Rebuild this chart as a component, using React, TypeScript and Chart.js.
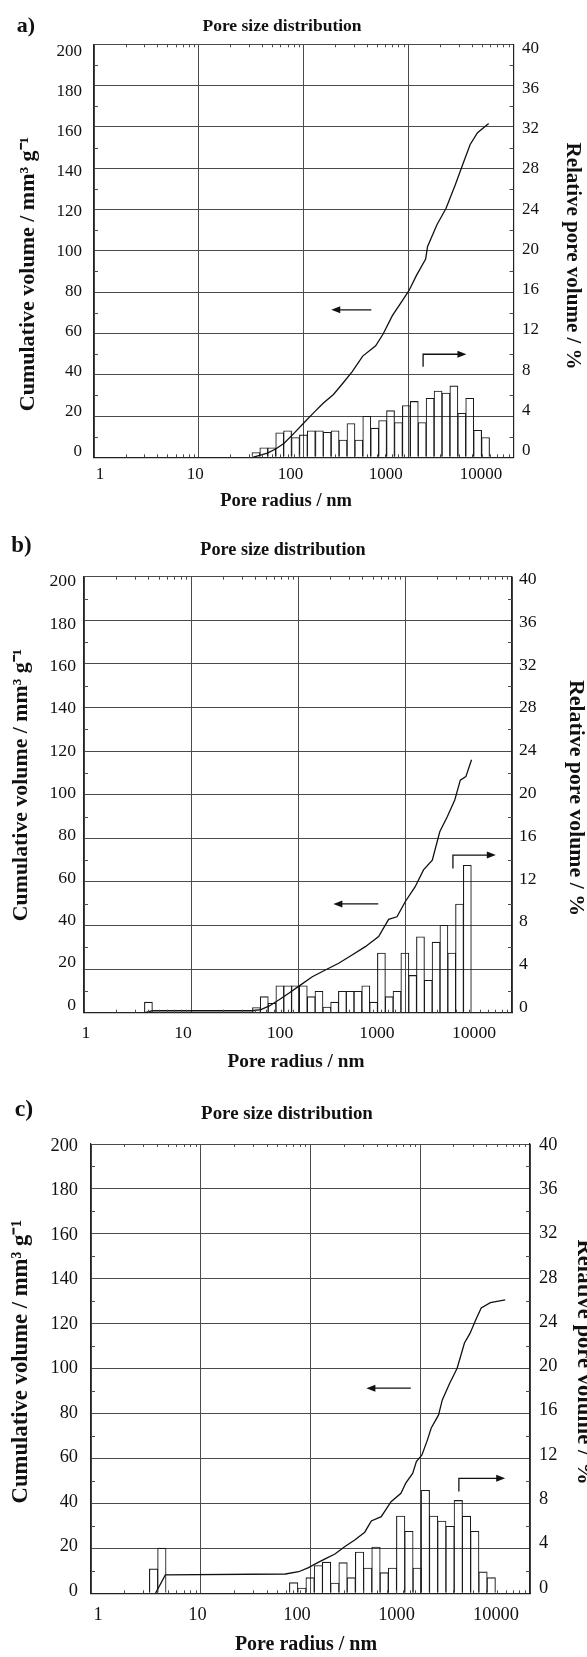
import React, { useEffect, useRef } from "react";
import { Chart, registerables } from "chart.js";

Chart.register(...registerables);

// ---------- shared axis data ----------
const X_TICKS = [1, 10, 100, 1000, 10000];
const X_TICK_LABELS = ["1", "10", "100", "1000", "10000"];
const LEFT_RANGE = [0, 200, 20];
const RIGHT_RANGE = [0, 40, 4];
const MINOR_X_MULTIPLIERS = [2, 3, 4, 5, 6, 7, 8, 9];
const MINOR_X_DECADES = [1, 10, 100, 1000];

const TITLE_TEXT = "Pore size distribution";
const X_TITLE = "Pore radius / nm";
const Y_LEFT_TITLE = "Cumulative volume / mm³ g⁻¹";
const Y_RIGHT_TITLE = "Relative pore volume / %";

// ---------- panel a ----------
const A_BIN_R = [35, 41.6, 49.5, 59, 70.1, 83.5, 99.3, 118, 141, 167, 199, 237, 282, 335, 399, 475, 565, 672, 800, 952, 1132, 1347, 1603, 1908, 2270, 2701, 3214, 3824, 4550, 5414];
const A_BIN_PCT = [0.5, 0.95, 0.95, 2.4, 2.6, 1.95, 2.2, 2.6, 2.6, 2.45, 2.6, 1.7, 3.3, 1.7, 4.0, 2.85, 3.6, 4.55, 3.4, 5.05, 5.45, 3.4, 5.75, 6.45, 6.25, 6.95, 4.3, 5.75, 2.65, 1.95];
const A_CUM_R = [32.5, 45, 54, 65, 81, 100, 124, 154, 192, 238, 290, 365, 485, 571, 700, 894, 1009, 1188, 1453, 1514, 1857, 2275, 2787, 3279, 3862, 4539, 5799];
const A_CUM_V = [0, 2, 4, 6.8, 11.7, 16.6, 21.5, 26.3, 30.4, 36.1, 41.5, 49, 54, 59.7, 68.6, 76.7, 80.8, 88.1, 96, 102, 112.5, 120.6, 132, 141.8, 151.5, 157.2, 161.6];
const A_ARROW_LEFT = [441, 183, 71.4]; // from r, to r, at left-axis value
const A_ARROW_BENT = [1374, 43.9, 49.9, 3556]; // at r, from v, to v, to r

// ---------- panel b ----------
const B_BIN_R = [4.0, 40.9, 48.4, 57.2, 67.7, 80.1, 94.7, 112, 133, 157, 186, 220, 260, 307, 363, 430, 509, 602, 712, 842, 997, 1179, 1395, 1650, 1952, 2310, 2733, 3233, 3824];
const B_BIN_PCT = [1.0, 0.5, 1.5, 0.9, 2.5, 2.5, 2.5, 2.5, 1.5, 2.0, 0.55, 1.0, 2.0, 2.0, 2.0, 2.5, 1.0, 5.5, 1.5, 2.0, 5.5, 3.45, 7.0, 3.0, 6.5, 8.05, 5.5, 10.0, 13.55];
const B_CUM_R = [3.7, 4.4, 37, 45, 54, 66, 82, 102, 136, 180, 240, 320, 426, 567, 703, 841, 1005, 1245, 1489, 1799, 2113, 2483, 2918, 3289, 3707, 4188];
const B_CUM_V = [0, 0.9, 0.9, 1.4, 3.1, 5.8, 8.9, 12.2, 16.5, 19.6, 22.7, 26.5, 30.3, 34.9, 42.8, 44, 50.9, 57.8, 65.5, 70, 83, 89.9, 97.6, 106.7, 108.3, 116];
const B_ARROW_LEFT = [562, 214, 49.9];
const B_ARROW_BENT = [2805, 66.2, 72.3, 7063];

// ---------- panel c ----------
const C_BIN_R = [3.72, 4.42, 70.2, 83.5, 99.2, 118, 140, 166.5, 198, 235, 280, 332, 395, 469, 558, 663, 788, 937, 1113, 1323, 1572, 1869, 2221, 2640, 3137, 3729, 4432];
const C_BIN_PCT = [2.2, 4.05, 0.98, 0.5, 1.42, 2.5, 2.8, 0.95, 2.76, 1.42, 3.71, 2.28, 4.15, 1.87, 2.28, 6.91, 5.55, 2.28, 9.2, 6.91, 6.47, 6.0, 8.3, 6.9, 5.55, 1.93, 1.42];
const C_CUM_R = [3.87, 4.76, 59, 78, 96, 114, 136, 167, 206, 253, 312, 358, 441, 542, 667, 740, 853, 922, 1036, 1163, 1256, 1468, 1588, 1855, 2168, 2528, 2845, 3200, 3592, 4355, 5940];
const C_CUM_V = [0, 8.2, 8.6, 9.6, 11.4, 13.4, 15.3, 17.5, 20.8, 23.7, 27.2, 32.2, 34.1, 40.8, 44.5, 49.2, 53.4, 58.6, 61.6, 68.3, 73.5, 79.4, 86.1, 93.5, 100.2, 111.4, 115.8, 121.7, 127, 129.4, 130.6];
const C_ARROW_LEFT = [820, 323, 91.3];
const C_ARROW_BENT = [2249, 45.3, 51.2, 5940];

// ---------- styling / layout ----------
const FONT = "'Liberation Serif', 'Times New Roman', Times, serif";
const TXT = "#111";
const GRID = "#4a4a4a";
const AXIS = "#222";
const PAGE_W = 587;

type Layout = {
  top: number; height: number; fs: number;
  plotLeft: number; plotRight: number; plotTop: number; plotBottom: number;
  xLabelFirst: number; xLabelLast: number; xLabelY: number;
  yLabelTop: number; yLabelBottom: number; yLabelRight: number;
  yRLabelTop: number; yRLabelBottom: number; yRLabelLeft: number;
  xTitleX: number; xTitleY: number;
  yLTitleX: number; yLTitleY: number; yLTitleSize: number;
  yRTitleX: number; yRTitleY: number;
  letterX: number; letterY: number; titleX: number; titleY: number;
};

type Panel = {
  letter: string;
  binR: number[]; binPct: number[];
  cumR: number[]; cumV: number[];
  arrowLeft: number[]; arrowBent: number[];
  layout: Layout;
};

const PANELS: Panel[] = [
  {
    letter: "a)", binR: A_BIN_R, binPct: A_BIN_PCT, cumR: A_CUM_R, cumV: A_CUM_V,
    arrowLeft: A_ARROW_LEFT, arrowBent: A_ARROW_BENT,
    layout: {
      top: 0, height: 535, fs: 1,
      plotLeft: 94, plotRight: 513.5, plotTop: 44.3, plotBottom: 457.3,
      xLabelFirst: 100, xLabelLast: 481, xLabelY: 475,
      yLabelTop: 51.7, yLabelBottom: 451.7, yLabelRight: 82,
      yRLabelTop: 48.3, yRLabelBottom: 450.7, yRLabelLeft: 522,
      xTitleX: 286, xTitleY: 501.7,
      yLTitleX: 28, yLTitleY: 274, yLTitleSize: 22,
      yRTitleX: 572, yRTitleY: 256,
      letterX: 26, letterY: 26, titleX: 282, titleY: 26,
    },
  },
  {
    letter: "b)", binR: B_BIN_R, binPct: B_BIN_PCT, cumR: B_CUM_R, cumV: B_CUM_V,
    arrowLeft: B_ARROW_LEFT, arrowBent: B_ARROW_BENT,
    layout: {
      top: 535, height: 545, fs: 1.04,
      plotLeft: 84, plotRight: 512, plotTop: 41.7, plotBottom: 477.7,
      xLabelFirst: 86, xLabelLast: 474, xLabelY: 498,
      yLabelTop: 46.7, yLabelBottom: 470, yLabelRight: 76,
      yRLabelTop: 44.3, yRLabelBottom: 472.3, yRLabelLeft: 519,
      xTitleX: 296, xTitleY: 527,
      yLTitleX: 21, yLTitleY: 250, yLTitleSize: 21,
      yRTitleX: 575.5, yRTitleY: 263,
      letterX: 21.5, letterY: 11, titleX: 283, titleY: 15,
    },
  },
  {
    letter: "c)", binR: C_BIN_R, binPct: C_BIN_PCT, cumR: C_CUM_R, cumV: C_CUM_V,
    arrowLeft: C_ARROW_LEFT, arrowBent: C_ARROW_BENT,
    layout: {
      top: 1080, height: 577, fs: 1.08,
      plotLeft: 91, plotRight: 530, plotTop: 64, plotBottom: 513.3,
      xLabelFirst: 98, xLabelLast: 496, xLabelY: 535,
      yLabelTop: 66, yLabelBottom: 511, yLabelRight: 78,
      yRLabelTop: 65, yRLabelBottom: 507.7, yRLabelLeft: 539,
      xTitleX: 306, xTitleY: 564.5,
      yLTitleX: 21.5, yLTitleY: 281.7, yLTitleSize: 21,
      yRTitleX: 584, yRTitleY: 282,
      letterX: 24, letterY: 30, titleX: 287, titleY: 34,
    },
  },
];

// ---------- decoration plugin ----------
function drawArrowHead(ctx: CanvasRenderingContext2D, tipX: number, tipY: number, dir: number) {
  const len = 9, half = 3.5;
  ctx.beginPath();
  ctx.moveTo(tipX, tipY);
  ctx.lineTo(tipX - dir * len, tipY - half);
  ctx.lineTo(tipX - dir * len, tipY + half);
  ctx.closePath();
  ctx.fill();
}

const decoPlugin = {
  id: "deco",
  afterDraw(chart: any, _args: any, opts: any) {
    const { ctx, chartArea, scales } = chart;
    const L: Layout = opts.layout;
    const xs = scales.x, yl = scales.yL, yr = scales.yR;
    const fs = L.fs;
    ctx.save();

    // minor ticks
    ctx.strokeStyle = GRID;
    ctx.lineWidth = 1;
    ctx.beginPath();
    for (const d of MINOR_X_DECADES) {
      for (const k of MINOR_X_MULTIPLIERS) {
        const px = Math.round(xs.getPixelForValue(d * k)) + 0.5;
        ctx.moveTo(px, chartArea.top);
        ctx.lineTo(px, chartArea.top + 3);
        ctx.moveTo(px, chartArea.bottom);
        ctx.lineTo(px, chartArea.bottom - 3);
      }
    }
    for (let v = LEFT_RANGE[0] + LEFT_RANGE[2] / 2; v < LEFT_RANGE[1]; v += LEFT_RANGE[2]) {
      const py = Math.round(yl.getPixelForValue(v)) + 0.5;
      ctx.moveTo(chartArea.left, py);
      ctx.lineTo(chartArea.left + 4, py);
    }
    for (let v = RIGHT_RANGE[0] + RIGHT_RANGE[2] / 2; v < RIGHT_RANGE[1]; v += RIGHT_RANGE[2]) {
      const py = Math.round(yr.getPixelForValue(v)) + 0.5;
      ctx.moveTo(chartArea.right, py);
      ctx.lineTo(chartArea.right - 4, py);
    }
    ctx.stroke();

    // arrows
    ctx.strokeStyle = "#111";
    ctx.fillStyle = "#111";
    ctx.lineWidth = 1.3;
    const [lFrom, lTo, lY] = opts.arrowLeft;
    const ly = yl.getPixelForValue(lY);
    const lx0 = xs.getPixelForValue(lFrom);
    const lx1 = xs.getPixelForValue(lTo);
    ctx.beginPath();
    ctx.moveTo(lx0, ly);
    ctx.lineTo(lx1 + 8, ly);
    ctx.stroke();
    drawArrowHead(ctx, lx1, ly, -1);

    const [bX, bV0, bV1, bTo] = opts.arrowBent;
    const bx = xs.getPixelForValue(bX);
    const by0 = yl.getPixelForValue(bV0);
    const by1 = yl.getPixelForValue(bV1);
    const bx1 = xs.getPixelForValue(bTo);
    ctx.beginPath();
    ctx.moveTo(bx, by0);
    ctx.lineTo(bx, by1);
    ctx.lineTo(bx1 - 8, by1);
    ctx.stroke();
    drawArrowHead(ctx, bx1, by1, 1);

    // tick labels (the original places them on a slightly compressed grid)
    ctx.fillStyle = TXT;
    ctx.textBaseline = "middle";
    ctx.font = `${17 * fs}px ${FONT}`;
    const w = chartArea.right - chartArea.left;
    const h = chartArea.bottom - chartArea.top;
    ctx.textAlign = "center";
    xs.ticks.forEach((t: any) => {
      const f = (xs.getPixelForValue(t.value) - chartArea.left) / w;
      const i = X_TICKS.indexOf(t.value);
      const label = i >= 0 ? X_TICK_LABELS[i] : String(t.value);
      ctx.fillText(label, L.xLabelFirst + f * (L.xLabelLast - L.xLabelFirst), L.xLabelY);
    });
    ctx.textAlign = "right";
    yl.ticks.forEach((t: any) => {
      const f = (yl.getPixelForValue(t.value) - chartArea.top) / h;
      ctx.fillText(String(t.value), L.yLabelRight, L.yLabelTop + f * (L.yLabelBottom - L.yLabelTop));
    });
    ctx.textAlign = "left";
    yr.ticks.forEach((t: any) => {
      const f = (yr.getPixelForValue(t.value) - chartArea.top) / h;
      ctx.fillText(String(t.value), L.yRLabelLeft, L.yRLabelTop + f * (L.yRLabelBottom - L.yRLabelTop));
    });

    // axis titles
    ctx.textAlign = "center";
    ctx.font = `bold ${18.5 * fs}px ${FONT}`;
    ctx.fillText(X_TITLE, L.xTitleX, L.xTitleY);

    ctx.font = `bold ${L.yLTitleSize * fs}px ${FONT}`;
    ctx.save();
    ctx.translate(L.yLTitleX, L.yLTitleY);
    ctx.rotate(-Math.PI / 2);
    ctx.fillText(Y_LEFT_TITLE, 0, 0);
    ctx.restore();
    ctx.font = `bold ${21 * fs}px ${FONT}`;
    ctx.save();
    ctx.translate(L.yRTitleX, L.yRTitleY);
    ctx.rotate(Math.PI / 2);
    ctx.fillText(Y_RIGHT_TITLE, 0, 0);
    ctx.restore();

    // panel title and letter
    ctx.font = `bold ${17.5 * fs}px ${FONT}`;
    ctx.fillText(TITLE_TEXT, L.titleX, L.titleY);
    ctx.font = `bold ${22 * fs}px ${FONT}`;
    ctx.fillText(opts.letter, L.letterX, L.letterY);

    ctx.restore();
  },
};

function makeConfig(p: Panel): any {
  const L = p.layout;
  return {
    type: "bar",
    data: {
      datasets: [
        {
          type: "line",
          data: p.cumR.map((r, i) => ({ x: r, y: p.cumV[i] })),
          xAxisID: "x",
          yAxisID: "yL",
          borderColor: "#111",
          borderWidth: 1.3,
          pointRadius: 0,
          tension: 0,
          fill: false,
          order: 0,
        },
        {
          type: "bar",
          data: p.binR.map((r, i) => ({ x: r, y: p.binPct[i] })),
          xAxisID: "x",
          yAxisID: "yR",
          backgroundColor: "rgba(255,255,255,0)",
          borderColor: "#1a1a1a",
          borderWidth: 1.1,
          barPercentage: 1.13,
          categoryPercentage: 1,
          order: 1,
        },
      ],
    },
    options: {
      responsive: false,
      animation: false,
      devicePixelRatio: 1,
      events: [],
      layout: { padding: { top: L.plotTop, left: 0, right: 0, bottom: 0 } },
      plugins: {
        legend: { display: false },
        tooltip: { enabled: false },
        title: { display: false },
        deco: {
          letter: p.letter,
          arrowLeft: p.arrowLeft,
          arrowBent: p.arrowBent,
          layout: L,
        },
      },
      scales: {
        x: {
          type: "logarithmic",
          position: "bottom",
          min: X_TICKS[0],
          max: X_TICKS[X_TICKS.length - 1],
          offset: false,
          grid: { offset: false, color: GRID, lineWidth: 1, drawTicks: false },
          border: { color: AXIS, width: 1.2 },
          afterBuildTicks: (s: any) => {
            s.ticks = X_TICKS.map((v) => ({ value: v }));
          },
          afterFit: (s: any) => {
            s.height = L.height - L.plotBottom;
          },
          ticks: { display: false, autoSkip: false },
          title: { display: false },
        },
        yL: {
          type: "linear",
          position: "left",
          min: LEFT_RANGE[0],
          max: LEFT_RANGE[1],
          grid: { color: GRID, lineWidth: 1, drawTicks: false },
          border: { color: AXIS, width: 1.2 },
          afterFit: (s: any) => {
            s.width = L.plotLeft;
          },
          ticks: { display: false, stepSize: LEFT_RANGE[2] },
          title: { display: false },
        },
        yR: {
          type: "linear",
          position: "right",
          min: RIGHT_RANGE[0],
          max: RIGHT_RANGE[1],
          grid: { drawOnChartArea: false, drawTicks: false },
          border: { color: AXIS, width: 1.2 },
          afterFit: (s: any) => {
            s.width = PAGE_W - L.plotRight;
          },
          ticks: { display: false, stepSize: RIGHT_RANGE[2] },
          title: { display: false },
        },
      },
    },
    plugins: [decoPlugin],
  };
}

function PanelChart({ panel }: { panel: Panel }) {
  const ref = useRef<HTMLCanvasElement>(null);
  useEffect(() => {
    if (!ref.current) return;
    const chart = new Chart(ref.current, makeConfig(panel));
    return () => chart.destroy();
  }, [panel]);
  const L = panel.layout;
  return (
    <canvas
      ref={ref}
      width={PAGE_W}
      height={L.height}
      style={{ position: "absolute", left: 0, top: L.top, width: PAGE_W, height: L.height }}
    />
  );
}

export default function App() {
  return (
    <div style={{ position: "absolute", left: 0, top: 0, width: PAGE_W, height: 1657, background: "#fff" }}>
      {PANELS.map((p) => (
        <PanelChart key={p.letter} panel={p} />
      ))}
    </div>
  );
}
